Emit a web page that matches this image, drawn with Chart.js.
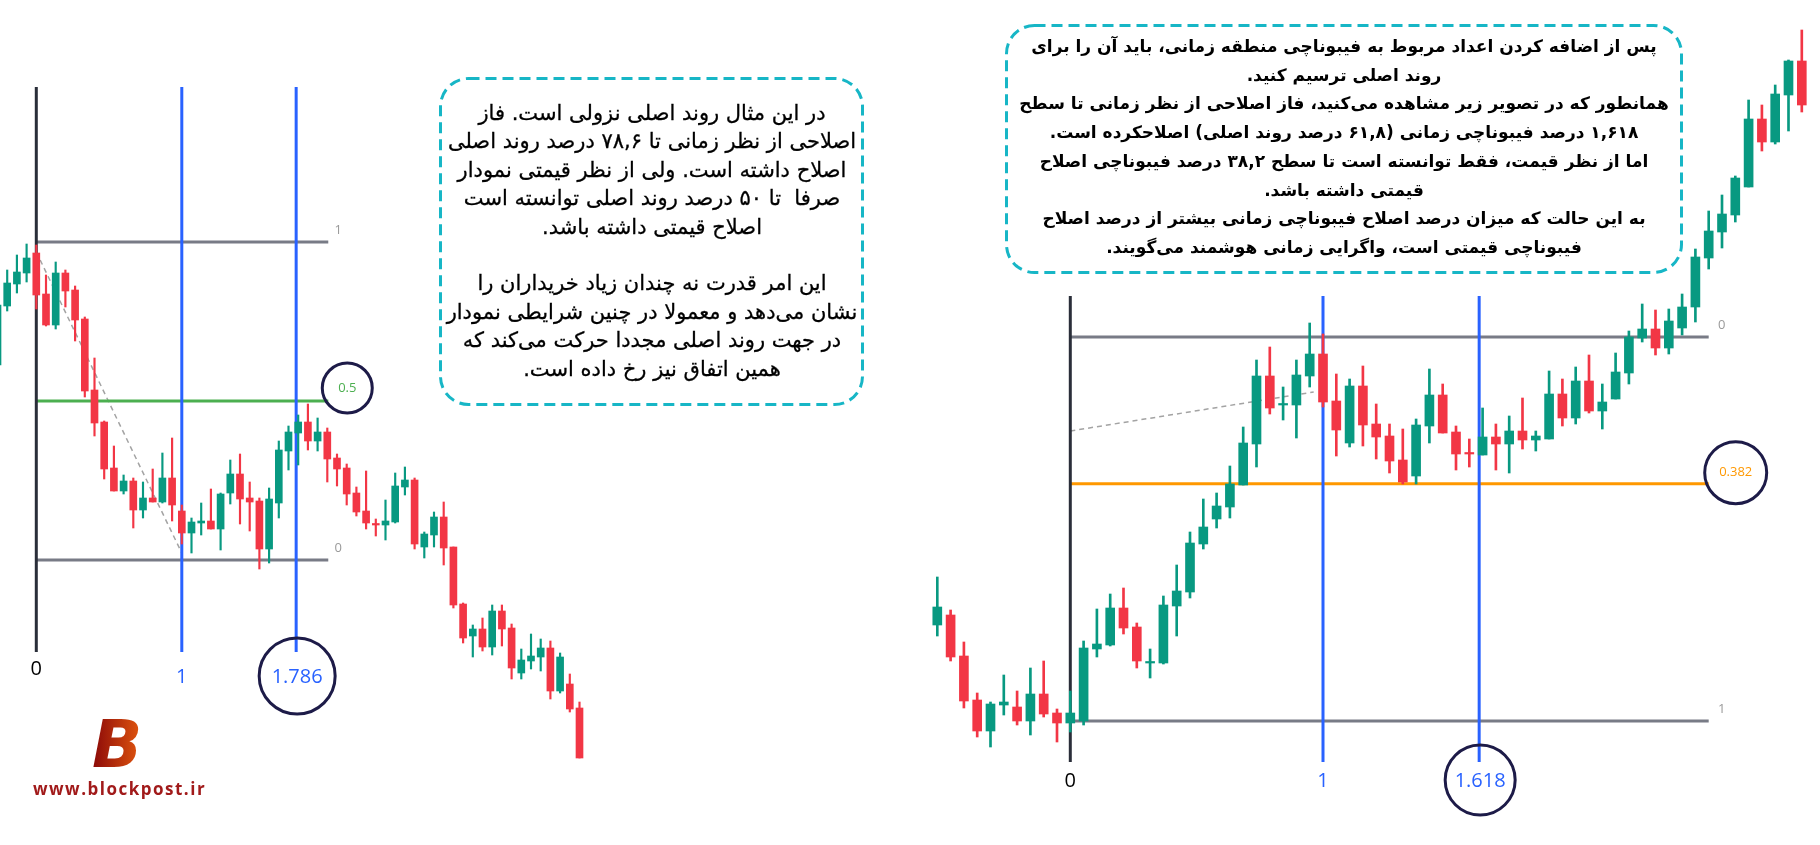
<!DOCTYPE html>
<html lang="fa">
<head>
<meta charset="utf-8">
<title>Fibonacci time zones</title>
<script src="https://cdn.jsdelivr.net/npm/chart.js@4.4.1/dist/chart.umd.min.js"></script>
<style>
  html, body { margin: 0; padding: 0; background: #fff; }
  #wrap { position: relative; width: 1820px; height: 845px; overflow: hidden; }
  #chart { position: absolute; left: 0; top: 0; }
  svg.frames { position: absolute; left: 0; top: 0; pointer-events: none; }
  .note {
    position: absolute; direction: rtl; text-align: center; color: #000;
    font-family: "DejaVu Sans", sans-serif;
  }
  #noteLeft  { left: 441px; top: 99px; width: 422px; font-size: 21px; line-height: 28.4px;
               -webkit-text-stroke: 0.3px #000; }
  #noteRight { left: 1006px; top: 32px; width: 676px; font-size: 17px; line-height: 28.7px; font-weight: bold; }
  #logoB {
    position: absolute; left: 92px; top: 706px; font: italic bold 66px "DejaVu Sans", sans-serif;
    background: linear-gradient(90deg, #8a0808, #e2570e); -webkit-background-clip: text;
    background-clip: text; color: transparent;
  }
  #logoUrl {
    position: absolute; left: 33px; top: 777px; font: bold 17px "Open Sans", sans-serif;
    color: #a11a1a; letter-spacing: 1.5px;
  }
</style>
</head>
<body>
<div id="wrap">
  <canvas id="chart" width="1820" height="845"></canvas>

  <svg class="frames" width="1820" height="845">
    <rect x="440.5" y="78.5" width="422" height="326" rx="28" fill="none"
          stroke="#17b6c6" stroke-width="3" stroke-dasharray="11 6"/>
    <rect x="1006.5" y="25.5" width="675" height="247" rx="28" fill="none"
          stroke="#17b6c6" stroke-width="3" stroke-dasharray="11 6"/>
  </svg>

  <div class="note" id="noteLeft">
    در این مثال روند اصلی نزولی است. فاز<br>
    اصلاحی از نظر زمانی تا ۷۸,۶ درصد روند اصلی<br>
    اصلاح داشته است. ولی از نظر قیمتی نمودار<br>
    صرفا&nbsp; تا ۵۰ درصد روند اصلی توانسته است<br>
    اصلاح قیمتی داشته باشد.<br>
    <br>
    این امر قدرت نه چندان زیاد خریداران را<br>
    نشان می‌دهد و معمولا در چنین شرایطی نمودار<br>
    در جهت روند اصلی مجددا حرکت می‌کند که<br>
    همین اتفاق نیز رخ داده است.
  </div>

  <div class="note" id="noteRight">
    پس از اضافه کردن اعداد مربوط به فیبوناچی منطقه زمانی، باید آن را برای<br>
    روند اصلی ترسیم کنید.<br>
    همانطور که در تصویر زیر مشاهده می‌کنید، فاز اصلاحی از نظر زمانی تا سطح<br>
    ۱,۶۱۸ درصد فیبوناچی زمانی (۶۱,۸ درصد روند اصلی) اصلاحکرده است.<br>
    اما از نظر قیمت، فقط توانسته است تا سطح ۳۸,۲ درصد فیبوناچی اصلاح<br>
    قیمتی داشته باشد.<br>
    به این حالت که میزان درصد اصلاح فیبوناچی زمانی بیشتر از درصد اصلاح<br>
    فیبوناچی قیمتی است، واگرایی زمانی هوشمند می‌گویند.
  </div>

  <div id="logoB">B</div>
  <div id="logoUrl">www.blockpost.ir</div>
</div>

<script>
/* ── Left chart: downtrend, candles indexed from -4 (0 = start of the move) ── */
const leftStart = -4;
const leftOpen  = [48.0,53.9,56.1,57.2, 59.2,55.1,52.0,57.2,55.5,52.6,45.5,42.3,37.7,35.4,
  36.4,33.5,34.7,34.3,36.7,33.4,31.2,32.2,32.4,31.6, 35.2,37.1,34.7,34.4,29.6,34.2,39.4,41.2,42.3,40.4,
  41.3,38.7,37.7,35.2,33.4,32.1,32.0,32.3,35.8,36.5, 29.8,31.0,32.8,29.8,24.1,20.9,21.6,19.8,23.4,21.7,
  17.2,18.4,18.8,19.7,15.4,16.1,13.7];
const leftHigh  = [54.5,57.5,59.0,60.1, 60.0,57.0,58.3,57.5,55.9,52.8,48.7,42.4,39.9,37.0,
  36.7,36.3,37.6,39.2,40.7,34.0,32.7,34.2,35.6,35.2, 38.5,39.1,36.3,34.7,35.7,40.4,41.9,43.0,44.1,42.7,
  41.7,39.1,38.1,35.8,37.4,32.6,34.5,37.2,37.8,36.7, 31.3,33.3,34.3,29.8,24.2,22.0,22.7,24.0,24.0,22.1,
  19.6,21.1,20.6,20.4,19.2,17.1,14.3];
const leftLow   = [47.5,53.4,55.2,56.3, 53.6,51.9,51.6,53.8,50.4,44.8,40.9,36.6,35.4,35.1,
  31.7,32.7,34.3,34.2,32.4,30.1,29.2,31.0,31.6,29.5, 34.1,32.1,31.4,27.6,28.2,32.7,37.5,38.0,39.5,39.4,
  36.3,35.9,34.0,32.9,31.6,30.9,30.5,32.2,35.0,29.6, 28.7,29.8,28.0,23.7,20.2,18.8,19.4,19.0,19.9,16.6,
  16.6,17.6,17.4,14.6,15.2,13.3,8.7];
const leftClose = [54.0,56.2,57.3,58.7, 55.0,52.0,57.2,55.4,52.5,45.4,42.2,37.6,35.4,36.4,
  33.5,34.7,34.3,36.7,34.0,31.2,32.3,32.4,31.6,35.1, 37.1,34.6,34.3,29.6,34.6,39.5,41.3,42.3,40.4,41.3,
  38.6,37.6,35.1,33.3,32.2,32.0,32.4,35.9,36.5,30.1, 31.1,32.8,29.7,24.0,20.7,21.6,19.8,23.4,21.6,17.7,
  18.5,18.9,19.7,15.4,18.8,13.6,8.7];

// Fibonacci tools drawn on the left chart
const leftTimeBase    = 15;              // bars from 0 to 1
const leftTimeLevels  = [0, 1, 1.786];
const leftTimeLabels  = ['0', '1', '1.786'];
const leftSwingHigh   = 60.3;
const leftSwingLow    = 28.5;
const leftPriceLevels = [1, 0.5, 0];
const leftPriceLabels = ['1', '0.5', '0'];
const leftLevelEnd    = 30.1;            // bar index where the price levels stop
const leftZoneSpan    = [19.3, 75.8];    // vertical extent of the time lines
const leftTrendX      = [0.4, 15];
const leftTrendY      = [58.5, 29.2];

/* ── Right chart: uptrend, candles indexed from -10 ── */
const rightStart = -10;
const rightOpen  = [22.0,23.0,18.9,14.5,11.4,14.0,13.8,12.4,15.1,13.2,
  12.2,12.4,19.6,20.0,23.7,21.8,18.2,18.2,23.9,25.3, 30.1,32.6,33.8,36.0,40.1,46.9,44.0,44.0,46.9,49.1,
  44.4,40.2,45.9,42.1,40.9,38.5,36.9,41.9,45.0,41.3, 39.2,39.0,40.8,40.1,41.4,40.5,40.6,45.1,42.7,46.4,
  43.4,44.6,47.2,50.7,51.6,49.7,51.7,53.8,58.7,61.3, 63.0,65.8,72.6,70.3,75.0,78.4];
const rightHigh  = [26.8,23.5,20.3,15.2,14.3,17.0,15.4,17.7,18.4,13.6,
  15.4,20.4,23.6,25.1,25.7,22.2,19.6,24.9,28.0,31.3, 34.6,35.2,37.9,41.8,48.5,49.8,45.8,48.5,52.2,51.1,
  47.1,46.6,47.9,44.1,42.1,41.6,42.6,47.6,46.1,41.9, 40.6,43.7,42.1,42.9,44.7,41.4,47.4,46.6,47.8,49.0,
  46.1,49.2,51.4,54.1,53.5,53.6,55.1,59.6,63.4,65.0, 66.9,74.5,74.0,76.0,78.5,81.5];
const rightLow   = [20.9,18.4,13.7,10.8,9.8,13.0,12.0,11.0,12.8,10.3,
  11.3,12.0,18.8,19.9,21.1,17.7,16.7,18.1,20.9,24.7, 29.6,31.7,32.7,36.0,37.8,43.1,42.5,40.7,45.8,43.8,
  38.9,39.8,39.9,38.6,37.2,36.1,36.1,40.2,41.2,37.5, 37.8,39.0,37.5,37.2,39.6,39.4,40.6,41.9,42.1,43.2,
  41.6,44.6,46.1,50.3,49.0,49.1,51.0,52.3,57.6,59.7, 62.3,65.8,69.4,70.1,71.4,73.3];
const rightClose = [23.8,18.8,14.4,11.4,14.1,14.3,12.4,15.1,13.1,12.2,
  13.2,19.7,20.1,23.7,21.7,18.4,18.3,24.0,25.4,30.2, 31.8,33.9,36.1,40.2,46.9,43.7,44.1,47.0,49.1,44.3,
  41.5,45.9,42.0,40.8,38.4,36.3,42.0,45.0,41.2,39.1, 39.1,40.8,40.1,41.4,40.5,40.9,45.1,42.7,46.4,43.4,
  44.3,47.3,50.8,51.6,49.7,52.4,53.8,58.8,61.4,63.1, 66.7,72.6,70.3,75.1,78.4,74.0];

const rightTimeBase    = 19;
const rightTimeLevels  = [0, 1, 1.618];
const rightTimeLabels  = ['0', '1', '1.618'];
const rightSwingHigh   = 50.8;
const rightSwingLow    = 12.4;
const rightPriceLevels = [0, 0.382, 1];
const rightPriceLabels = ['0', '0.382', '1'];
const rightLevelEnd    = 48;
const rightZoneSpan    = [8.3, 54.9];
const rightTrendX      = [0, 18.3];
const rightTrendY      = [41.4, 45.3];

/* ── Styles ── */
const UP = '#089981', DOWN = '#f23645';
const GRAY = '#787b86', BLUE = '#2962ff', INK = '#2a2e39', RING = '#1d1b48';
const levelColor = { '0.5': '#4caf50', '0.382': '#ff9800' };

/* ── Helpers ── */
function candleSets(start, open, high, low, close, axis, bodyW, wickW) {
  const colors = open.map((o, k) => close[k] >= o ? UP : DOWN);
  const common = { type: 'bar', xAxisID: axis, grouped: false, borderWidth: 0, backgroundColor: colors };
  return [
    { ...common, order: 0, barThickness: bodyW, maxBarThickness: bodyW, minBarLength: 1.5,
      data: open.map((o, k) => ({ x: start + k, y: [o, close[k]] })) },
    { ...common, order: 1, barThickness: wickW, maxBarThickness: wickW,
      data: open.map((o, k) => ({ x: start + k, y: [low[k], high[k]] })) }
  ];
}

function segment(axis, pts, color, width, dash) {
  return {
    type: 'line', xAxisID: axis, order: 2, data: pts,
    borderColor: color, borderWidth: width, borderDash: dash || [],
    pointRadius: 0, borderCapStyle: 'butt', fill: false, tension: 0
  };
}

function fibSets(axis, timeBase, timeLevels, span, priceOf, priceLevels, priceLabels, levelEnd, trendX, trendY) {
  const sets = [];
  timeLevels.forEach((t, k) => {
    const x = t * timeBase;
    sets.push(segment(axis, [{ x, y: span[0] }, { x, y: span[1] }], k === 0 ? INK : BLUE, 3));
  });
  priceLevels.forEach((r, k) => {
    const p = priceOf(r);
    sets.push(segment(axis, [{ x: 0, y: p }, { x: levelEnd, y: p }], levelColor[priceLabels[k]] || GRAY, 3));
  });
  sets.push(segment(axis, trendX.map((x, k) => ({ x, y: trendY[k] })), '#a3a3a3', 1.5, [5, 4]));
  return sets;
}

const leftPrice  = r => leftSwingLow + r * (leftSwingHigh - leftSwingLow);
const rightPrice = r => rightSwingHigh - r * (rightSwingHigh - rightSwingLow);

/* ── Labels and rings, placed through the scales ── */
const fibLabels = {
  id: 'fibLabels',
  afterDatasetsDraw(chart) {
    const { ctx, scales } = chart;
    const Y = scales.y;
    ctx.save();
    ctx.textAlign = 'center';
    ctx.textBaseline = 'middle';

    const ring = (cx, cy, r) => {
      ctx.beginPath();
      ctx.arc(cx, cy, r, 0, Math.PI * 2);
      ctx.lineWidth = 3;
      ctx.strokeStyle = RING;
      ctx.stroke();
    };

    const timeRow = (axis, base, levels, labels, bottom, gap0, gap, ringR) => {
      const yb = Y.getPixelForValue(bottom);
      ctx.font = '20px "Open Sans", sans-serif';
      levels.forEach((t, k) => {
        const x = scales[axis].getPixelForValue(t * base);
        const last = k === levels.length - 1;
        const y = yb + (k === 0 ? gap0 : gap);
        if (last) ring(x + 1, y, ringR);
        ctx.fillStyle = k === 0 ? '#000' : BLUE;
        ctx.fillText(labels[k], x + (last ? 1 : 0), y + 1);
      });
    };

    const priceCol = (axis, end, levels, labels, priceOf, dx, ringDx, ringDy, ringR) => {
      const xe = scales[axis].getPixelForValue(end);
      levels.forEach((r, k) => {
        const y = Y.getPixelForValue(priceOf(r));
        const c = levelColor[labels[k]];
        if (c) {
          ring(xe + ringDx, y - ringDy, ringR);
          ctx.font = '13px "Open Sans", sans-serif';
          ctx.fillStyle = c;
          ctx.fillText(labels[k], xe + ringDx, y - ringDy);
        } else {
          ctx.font = '13px "Open Sans", sans-serif';
          ctx.fillStyle = '#9a9a9a';
          ctx.fillText(labels[k], xe + dx, y - 12);
        }
      });
    };

    timeRow('xL', leftTimeBase, leftTimeLevels, leftTimeLabels, leftZoneSpan[0], 16, 24, 38);
    timeRow('xR', rightTimeBase, rightTimeLevels, rightTimeLabels, rightZoneSpan[0], 18, 18, 35);
    priceCol('xL', leftLevelEnd, leftPriceLevels, leftPriceLabels, leftPrice, 10, 19, 13, 25);
    priceCol('xR', rightLevelEnd, rightPriceLevels, rightPriceLabels, rightPrice, 13, 27, 11, 31);
    ctx.restore();
  }
};

new Chart(document.getElementById('chart'), {
  type: 'bar',
  data: {
    datasets: [
      ...candleSets(leftStart, leftOpen, leftHigh, leftLow, leftClose, 'xL', 7, 1.5),
      ...candleSets(rightStart, rightOpen, rightHigh, rightLow, rightClose, 'xR', 9, 2),
      ...fibSets('xL', leftTimeBase, leftTimeLevels, leftZoneSpan, leftPrice,
                 leftPriceLevels, leftPriceLabels, leftLevelEnd, leftTrendX, leftTrendY),
      ...fibSets('xR', rightTimeBase, rightTimeLevels, rightZoneSpan, rightPrice,
                 rightPriceLevels, rightPriceLabels, rightLevelEnd, rightTrendX, rightTrendY)
    ]
  },
  options: {
    responsive: false,
    animation: false,
    devicePixelRatio: 1,
    layout: { padding: 0 },
    plugins: { legend: { display: false }, tooltip: { enabled: false } },
    scales: {
      // bar index -> pixel: left bars 9.7px apart from x=36.3, right bars 13.3px apart from x=1070.3
      xL: { type: 'linear', display: false, offset: false, min: -36.3 / 9.7, max: (1820 - 36.3) / 9.7 },
      xR: { type: 'linear', display: false, offset: false, min: -1070.3 / 13.3, max: (1820 - 1070.3) / 13.3 },
      y:  { type: 'linear', display: false, min: 0, max: 84.5 }
    }
  },
  plugins: [fibLabels]
});
</script>
</body>
</html>
